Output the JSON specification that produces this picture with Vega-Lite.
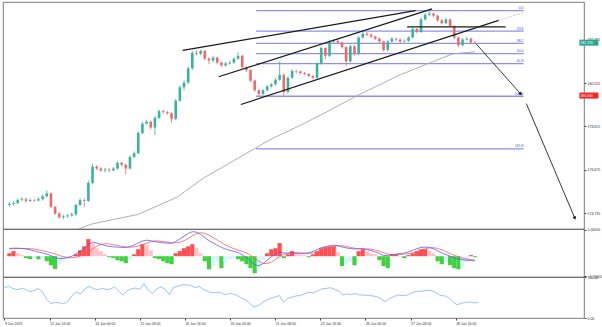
{
"$schema":"https://vega.github.io/schema/vega-lite/v6.json",
"padding":{"left":2,"top":1,"right":2,"bottom":0},
"background":"#ffffff",
"spacing":0,
"bounds":"flush",
"resolve":{"scale":{"color":"independent"}},
"config":{"font":"Liberation Sans","view":{"stroke":"#5a5a5a","strokeWidth":0.8},"axis":{"grid":false,"domain":false,"tickSize":2,"tickColor":"#444","labelFontSize":3.5,"labelColor":"#333","labelPadding":1,"title":null}},
"datasets":{
"candles":[
{"t":0,"o":175.10,"h":175.23,"l":175.02,"c":175.15},{"t":3,"o":175.15,"h":175.27,"l":175.08,"c":175.19},{"t":6,"o":175.19,"h":175.40,"l":175.12,"c":175.32},{"t":9,"o":175.32,"h":175.45,"l":175.27,"c":175.36},{"t":12,"o":175.36,"h":175.44,"l":175.20,"c":175.28},{"t":15,"o":175.28,"h":175.40,"l":175.22,"c":175.32},{"t":18,"o":175.32,"h":175.38,"l":175.24,"c":175.30},{"t":21,"o":175.30,"h":175.44,"l":175.26,"c":175.36},{"t":24,"o":175.36,"h":175.57,"l":175.30,"c":175.49},{"t":27,"o":175.49,"h":175.75,"l":175.44,"c":175.62},
{"t":30,"o":175.62,"h":175.66,"l":174.96,"c":175.02},{"t":33,"o":175.02,"h":175.06,"l":174.65,"c":174.72},{"t":36,"o":174.72,"h":174.78,"l":174.48,"c":174.55},{"t":39,"o":174.55,"h":174.66,"l":174.46,"c":174.59},{"t":42,"o":174.59,"h":174.70,"l":174.52,"c":174.63},{"t":45,"o":174.63,"h":174.76,"l":174.58,"c":174.68},{"t":48,"o":174.68,"h":175.15,"l":174.62,"c":175.10},{"t":51,"o":175.10,"h":175.40,"l":175.05,"c":175.32},{"t":54,"o":175.32,"h":175.40,"l":175.00,"c":175.28},{"t":57,"o":175.28,"h":176.20,"l":175.24,"c":176.09},
{"t":60,"o":176.09,"h":176.95,"l":176.02,"c":176.82},{"t":63,"o":176.82,"h":176.88,"l":176.66,"c":176.73},{"t":66,"o":176.73,"h":176.80,"l":176.58,"c":176.65},{"t":69,"o":176.65,"h":176.77,"l":176.56,"c":176.69},{"t":72,"o":176.69,"h":176.75,"l":176.57,"c":176.65},{"t":75,"o":176.65,"h":176.80,"l":176.60,"c":176.73},{"t":78,"o":176.73,"h":177.05,"l":176.68,"c":176.99},{"t":81,"o":176.99,"h":177.03,"l":176.82,"c":176.90},{"t":84,"o":176.90,"h":176.95,"l":176.47,"c":176.73},{"t":87,"o":176.73,"h":177.32,"l":176.70,"c":177.25},
{"t":90,"o":177.25,"h":177.50,"l":177.18,"c":177.42},{"t":93,"o":177.42,"h":178.40,"l":177.38,"c":178.32},{"t":96,"o":178.32,"h":178.82,"l":178.27,"c":178.74},{"t":99,"o":178.74,"h":178.92,"l":178.70,"c":178.83},{"t":102,"o":178.83,"h":178.88,"l":178.48,"c":178.57},{"t":105,"o":178.57,"h":179.08,"l":178.23,"c":179.00},{"t":108,"o":179.00,"h":179.38,"l":178.95,"c":179.30},{"t":111,"o":179.30,"h":179.36,"l":179.18,"c":179.26},{"t":114,"o":179.26,"h":179.32,"l":179.14,"c":179.21},{"t":117,"o":179.21,"h":179.25,"l":178.79,"c":178.96},
{"t":120,"o":178.96,"h":179.85,"l":178.90,"c":179.77},{"t":123,"o":179.77,"h":180.45,"l":179.72,"c":180.37},{"t":126,"o":180.37,"h":180.68,"l":180.22,"c":180.58},{"t":129,"o":180.58,"h":181.30,"l":180.52,"c":181.22},{"t":132,"o":181.22,"h":182.00,"l":181.15,"c":181.91},{"t":135,"o":181.91,"h":182.02,"l":181.80,"c":181.87},{"t":138,"o":181.87,"h":182.05,"l":181.80,"c":182.00},{"t":141,"o":182.00,"h":182.04,"l":181.58,"c":181.65},{"t":144,"o":181.65,"h":181.72,"l":181.40,"c":181.57},{"t":147,"o":181.57,"h":181.78,"l":181.50,"c":181.70},
{"t":150,"o":181.70,"h":181.74,"l":181.40,"c":181.48},{"t":153,"o":181.48,"h":181.52,"l":181.28,"c":181.35},{"t":156,"o":181.35,"h":181.50,"l":181.30,"c":181.44},{"t":159,"o":181.44,"h":181.55,"l":181.38,"c":181.48},{"t":162,"o":181.48,"h":181.72,"l":181.42,"c":181.65},{"t":165,"o":181.65,"h":181.95,"l":181.60,"c":181.78},{"t":168,"o":181.78,"h":181.82,"l":181.20,"c":181.27},{"t":171,"o":181.27,"h":181.32,"l":181.05,"c":181.14},{"t":174,"o":181.14,"h":181.18,"l":180.60,"c":180.67},{"t":177,"o":180.67,"h":180.72,"l":180.18,"c":180.24},
{"t":180,"o":180.24,"h":180.28,"l":179.98,"c":180.07},{"t":183,"o":180.07,"h":180.30,"l":180.02,"c":180.24},{"t":186,"o":180.24,"h":180.48,"l":180.18,"c":180.41},{"t":189,"o":180.41,"h":180.56,"l":180.36,"c":180.50},{"t":192,"o":180.50,"h":180.78,"l":180.45,"c":180.71},{"t":195,"o":180.71,"h":181.53,"l":180.66,"c":180.93},{"t":198,"o":180.93,"h":180.98,"l":179.94,"c":180.16},{"t":201,"o":180.16,"h":180.86,"l":180.10,"c":180.80},{"t":204,"o":180.80,"h":181.18,"l":180.74,"c":181.10},{"t":207,"o":181.10,"h":181.16,"l":181.00,"c":181.08},
{"t":210,"o":181.08,"h":181.12,"l":180.95,"c":181.01},{"t":213,"o":181.01,"h":181.06,"l":180.90,"c":180.97},{"t":216,"o":180.97,"h":181.00,"l":180.82,"c":180.88},{"t":219,"o":180.88,"h":180.92,"l":180.72,"c":180.80},{"t":222,"o":180.80,"h":181.50,"l":180.75,"c":181.44},{"t":225,"o":181.44,"h":182.20,"l":181.38,"c":182.13},{"t":228,"o":182.13,"h":182.17,"l":181.62,"c":181.78},{"t":231,"o":181.78,"h":182.50,"l":181.72,"c":182.42},{"t":234,"o":182.42,"h":182.54,"l":182.36,"c":182.45},{"t":237,"o":182.45,"h":182.52,"l":182.30,"c":182.38},
{"t":240,"o":182.38,"h":182.42,"l":182.10,"c":182.17},{"t":243,"o":182.17,"h":182.20,"l":181.31,"c":181.53},{"t":246,"o":181.53,"h":182.28,"l":181.48,"c":182.21},{"t":249,"o":182.21,"h":182.26,"l":181.78,"c":181.87},{"t":252,"o":181.87,"h":182.66,"l":181.82,"c":182.60},{"t":255,"o":182.60,"h":182.86,"l":182.54,"c":182.77},{"t":258,"o":182.77,"h":182.85,"l":182.65,"c":182.72},{"t":261,"o":182.72,"h":182.78,"l":182.57,"c":182.64},{"t":264,"o":182.64,"h":182.68,"l":182.48,"c":182.55},{"t":267,"o":182.55,"h":182.60,"l":182.36,"c":182.42},
{"t":270,"o":182.42,"h":182.46,"l":181.98,"c":182.04},{"t":273,"o":182.04,"h":182.48,"l":181.98,"c":182.42},{"t":276,"o":182.42,"h":182.62,"l":182.38,"c":182.55},{"t":279,"o":182.55,"h":182.60,"l":182.44,"c":182.51},{"t":282,"o":182.51,"h":182.55,"l":182.36,"c":182.42},{"t":285,"o":182.42,"h":182.52,"l":182.38,"c":182.45},{"t":288,"o":182.45,"h":182.66,"l":182.40,"c":182.60},{"t":291,"o":182.60,"h":183.05,"l":182.55,"c":182.98},{"t":294,"o":182.98,"h":183.02,"l":182.78,"c":182.85},{"t":297,"o":182.85,"h":183.50,"l":182.80,"c":183.41},
{"t":300,"o":183.41,"h":183.70,"l":183.35,"c":183.62},{"t":303,"o":183.62,"h":183.75,"l":183.56,"c":183.67},{"t":306,"o":183.67,"h":183.72,"l":183.50,"c":183.58},{"t":309,"o":183.58,"h":183.62,"l":183.30,"c":183.37},{"t":312,"o":183.37,"h":183.42,"l":183.18,"c":183.24},{"t":315,"o":183.24,"h":183.48,"l":183.20,"c":183.41},{"t":318,"o":183.41,"h":183.45,"l":183.05,"c":183.11},{"t":321,"o":183.11,"h":183.15,"l":182.52,"c":182.60},{"t":324,"o":182.60,"h":182.64,"l":182.17,"c":182.25},{"t":327,"o":182.25,"h":182.58,"l":182.20,"c":182.51},
{"t":330,"o":182.51,"h":182.62,"l":182.46,"c":182.55},{"t":333,"o":182.55,"h":182.60,"l":182.32,"c":182.38},{"t":336,"o":182.38,"h":182.44,"l":182.30,"c":182.37}
],
"ind":[
{"t":0,"h":0.11,"d":"up","m":0.29,"s":0.28,"r":74},{"t":3,"h":0.19,"d":"up","m":0.30,"s":0.28,"r":77},{"t":6,"h":0.11,"d":"dn+","m":0.30,"s":0.29,"r":72},{"t":9,"h":0.04,"d":"dn+","m":0.29,"s":0.29,"r":69},{"t":12,"h":-0.07,"d":"dn-","m":0.27,"s":0.29,"r":72},{"t":15,"h":-0.11,"d":"dn-","m":0.24,"s":0.28,"r":70},{"t":18,"h":-0.07,"d":"up-","m":0.20,"s":0.27,"r":64},{"t":21,"h":-0.11,"d":"dn-","m":0.16,"s":0.24,"r":67},{"t":24,"h":-0.07,"d":"up-","m":0.12,"s":0.21,"r":72},{"t":27,"h":-0.19,"d":"dn-","m":0.08,"s":0.17,"r":64},
{"t":30,"h":-0.34,"d":"dn-","m":0.02,"s":0.13,"r":45},{"t":33,"h":-0.48,"d":"dn-","m":-0.05,"s":0.08,"r":35},{"t":36,"h":-0.30,"d":"up-","m":-0.09,"s":0.03,"r":38},{"t":39,"h":-0.19,"d":"up-","m":-0.08,"s":-0.02,"r":37},{"t":42,"h":-0.11,"d":"up-","m":-0.05,"s":-0.05,"r":35},{"t":45,"h":-0.04,"d":"up-","m":0.00,"s":-0.06,"r":40},{"t":48,"h":0.07,"d":"up","m":0.08,"s":-0.04,"r":55},{"t":51,"h":0.22,"d":"up","m":0.18,"s":0.00,"r":64},{"t":54,"h":0.37,"d":"up","m":0.30,"s":0.07,"r":58},{"t":57,"h":0.64,"d":"up","m":0.42,"s":0.16,"r":71},
{"t":60,"h":0.49,"d":"dn+","m":0.53,"s":0.27,"r":77},{"t":63,"h":0.30,"d":"dn+","m":0.50,"s":0.37,"r":72},{"t":66,"h":0.19,"d":"dn+","m":0.45,"s":0.44,"r":69},{"t":69,"h":0.07,"d":"dn+","m":0.40,"s":0.47,"r":72},{"t":72,"h":-0.04,"d":"dn-","m":0.37,"s":0.46,"r":70},{"t":75,"h":-0.07,"d":"dn-","m":0.35,"s":0.43,"r":70},{"t":78,"h":-0.15,"d":"dn-","m":0.34,"s":0.40,"r":76},{"t":81,"h":-0.19,"d":"dn-","m":0.33,"s":0.37,"r":66},{"t":84,"h":-0.26,"d":"dn-","m":0.32,"s":0.35,"r":56},{"t":87,"h":-0.11,"d":"up-","m":0.36,"s":0.34,"r":66},
{"t":90,"h":0.07,"d":"up","m":0.42,"s":0.35,"r":71},{"t":93,"h":0.26,"d":"up","m":0.50,"s":0.38,"r":73},{"t":96,"h":0.45,"d":"up","m":0.57,"s":0.43,"r":70},{"t":99,"h":0.41,"d":"dn+","m":0.60,"s":0.49,"r":84},{"t":102,"h":0.22,"d":"dn+","m":0.58,"s":0.54,"r":68},{"t":105,"h":-0.07,"d":"dn-","m":0.55,"s":0.57,"r":60},{"t":108,"h":-0.11,"d":"dn-","m":0.52,"s":0.57,"r":71},{"t":111,"h":-0.19,"d":"dn-","m":0.50,"s":0.55,"r":76},{"t":114,"h":-0.26,"d":"dn-","m":0.49,"s":0.53,"r":70},{"t":117,"h":-0.30,"d":"dn-","m":0.48,"s":0.51,"r":57},
{"t":120,"h":0.11,"d":"up","m":0.55,"s":0.50,"r":75},{"t":123,"h":0.19,"d":"up","m":0.65,"s":0.52,"r":77},{"t":126,"h":0.30,"d":"up","m":0.75,"s":0.58,"r":81},{"t":129,"h":0.37,"d":"up","m":0.85,"s":0.66,"r":81},{"t":132,"h":0.45,"d":"up","m":0.92,"s":0.76,"r":80},{"t":135,"h":0.30,"d":"dn+","m":0.90,"s":0.84,"r":74},{"t":138,"h":0.11,"d":"dn+","m":0.82,"s":0.88,"r":77},{"t":141,"h":-0.19,"d":"dn-","m":0.70,"s":0.86,"r":70},{"t":144,"h":-0.49,"d":"dn-","m":0.58,"s":0.79,"r":65},{"t":147,"h":-0.34,"d":"up-","m":0.50,"s":0.70,"r":62},
{"t":150,"h":-0.19,"d":"up-","m":0.41,"s":0.60,"r":62},{"t":153,"h":-0.45,"d":"dn-","m":0.33,"s":0.51,"r":63},{"t":156,"h":-0.22,"d":"up-","m":0.27,"s":0.42,"r":57},{"t":159,"h":-0.11,"d":"up-","m":0.22,"s":0.35,"r":59},{"t":162,"h":-0.07,"d":"up-","m":0.18,"s":0.28,"r":59},{"t":165,"h":-0.11,"d":"dn-","m":0.14,"s":0.23,"r":55},{"t":168,"h":-0.19,"d":"dn-","m":0.05,"s":0.18,"r":49},{"t":171,"h":-0.30,"d":"dn-","m":-0.05,"s":0.12,"r":44},{"t":174,"h":-0.45,"d":"dn-","m":-0.18,"s":0.04,"r":36},{"t":177,"h":-0.64,"d":"dn-","m":-0.32,"s":-0.07,"r":27},
{"t":180,"h":-0.45,"d":"up-","m":-0.36,"s":-0.19,"r":30},{"t":183,"h":-0.15,"d":"up-","m":-0.28,"s":-0.27,"r":38},{"t":186,"h":0.11,"d":"up","m":-0.15,"s":-0.28,"r":44},{"t":189,"h":0.26,"d":"up","m":-0.02,"s":-0.22,"r":48},{"t":192,"h":0.30,"d":"up","m":0.08,"s":-0.12,"r":51},{"t":195,"h":0.49,"d":"up","m":0.15,"s":-0.02,"r":55},{"t":198,"h":-0.07,"d":"dn-","m":0.12,"s":0.07,"r":38},{"t":201,"h":0.07,"d":"up","m":0.12,"s":0.11,"r":48},{"t":204,"h":0.19,"d":"up","m":0.13,"s":0.12,"r":51},{"t":207,"h":0.11,"d":"dn+","m":0.12,"s":0.12,"r":54},
{"t":210,"h":0.07,"d":"dn+","m":0.11,"s":0.12,"r":55},{"t":213,"h":0.04,"d":"dn+","m":0.10,"s":0.12,"r":59},{"t":216,"h":-0.04,"d":"dn-","m":0.12,"s":0.11,"r":63},{"t":219,"h":0.07,"d":"up","m":0.18,"s":0.12,"r":61},{"t":222,"h":0.19,"d":"up","m":0.25,"s":0.15,"r":66},{"t":225,"h":0.30,"d":"up","m":0.32,"s":0.20,"r":71},{"t":228,"h":0.34,"d":"up","m":0.36,"s":0.27,"r":72},{"t":231,"h":0.37,"d":"up","m":0.39,"s":0.32,"r":74},{"t":234,"h":0.37,"d":"up","m":0.41,"s":0.36,"r":70},{"t":237,"h":0.15,"d":"dn+","m":0.40,"s":0.39,"r":66},
{"t":240,"h":-0.37,"d":"dn-","m":0.35,"s":0.39,"r":56},{"t":243,"h":-0.30,"d":"up-","m":0.31,"s":0.37,"r":59},{"t":246,"h":-0.22,"d":"up-","m":0.29,"s":0.33,"r":57},{"t":249,"h":-0.34,"d":"dn-","m":0.27,"s":0.30,"r":60},{"t":252,"h":0.19,"d":"up","m":0.28,"s":0.28,"r":56},{"t":255,"h":0.26,"d":"up","m":0.28,"s":0.28,"r":56},{"t":258,"h":0.19,"d":"dn+","m":0.25,"s":0.27,"r":55},{"t":261,"h":0.11,"d":"dn+","m":0.21,"s":0.26,"r":54},{"t":264,"h":0.07,"d":"dn+","m":0.16,"s":0.23,"r":52},{"t":267,"h":-0.15,"d":"dn-","m":0.10,"s":0.19,"r":47},
{"t":270,"h":-0.37,"d":"dn-","m":0.02,"s":0.13,"r":40},{"t":273,"h":-0.45,"d":"dn-","m":0.03,"s":0.08,"r":47},{"t":276,"h":0.07,"d":"up","m":0.06,"s":0.05,"r":52},{"t":279,"h":0.07,"d":"up","m":0.08,"s":0.05,"r":56},{"t":282,"h":-0.04,"d":"up-","m":0.10,"s":0.06,"r":55},{"t":285,"h":-0.07,"d":"dn-","m":0.12,"s":0.08,"r":55},{"t":288,"h":0.04,"d":"up","m":0.16,"s":0.10,"r":60},{"t":291,"h":0.11,"d":"up","m":0.22,"s":0.13,"r":64},{"t":294,"h":0.19,"d":"up","m":0.28,"s":0.18,"r":65},{"t":297,"h":0.26,"d":"up","m":0.33,"s":0.23,"r":66},
{"t":300,"h":0.26,"d":"up","m":0.34,"s":0.28,"r":68},{"t":303,"h":0.19,"d":"dn+","m":0.33,"s":0.31,"r":66},{"t":306,"h":0.11,"d":"dn+","m":0.28,"s":0.32,"r":62},{"t":309,"h":-0.19,"d":"dn-","m":0.20,"s":0.29,"r":55},{"t":312,"h":-0.30,"d":"dn-","m":0.12,"s":0.24,"r":54},{"t":315,"h":-0.22,"d":"up-","m":0.06,"s":0.17,"r":50},{"t":318,"h":-0.34,"d":"dn-","m":0.00,"s":0.10,"r":40},{"t":321,"h":-0.45,"d":"dn-","m":-0.06,"s":0.04,"r":32},{"t":324,"h":-0.49,"d":"dn-","m":-0.10,"s":-0.02,"r":36},{"t":327,"h":-0.37,"d":"up-","m":-0.13,"s":-0.07,"r":38},
{"t":330,"h":-0.22,"d":"up-","m":-0.15,"s":-0.11,"r":39},{"t":333,"h":0.04,"d":"up","m":-0.16,"s":-0.13,"r":37},{"t":336,"h":-0.04,"d":"dn-","m":-0.17,"s":-0.15,"r":38}
],
"ma":[{"t":45,"v":173.90},{"t":59,"v":174.24},{"t":75,"v":174.45},{"t":93,"v":174.68},{"t":108,"v":175.09},{"t":121,"v":175.45},{"t":140,"v":176.30},{"t":164,"v":177.16},{"t":188,"v":178.02},{"t":211,"v":178.70},{"t":230,"v":179.30},{"t":252,"v":180.03},{"t":282,"v":180.93},{"t":306,"v":181.53},{"t":320,"v":181.87},{"t":336,"v":181.96}],
"fib":[{"lvl":"0.0","p":183.80,"t1":178,"t2":371},{"lvl":"23.6","p":182.89,"t1":178,"t2":371},{"lvl":"38.2","p":182.34,"t1":178,"t2":371},{"lvl":"50.0","p":181.88,"t1":178,"t2":371},{"lvl":"61.8","p":181.43,"t1":178,"t2":371},{"lvl":"100.0","p":179.97,"t1":178,"t2":371},{"lvl":"161.8","p":177.61,"t1":178,"t2":371}],
"lines":[{"t1":125,"p1":182.02,"t2":293,"p2":183.80,"k":"tl"},{"t1":151,"p1":180.84,"t2":305,"p2":183.88,"k":"tl"},{"t1":167,"p1":179.60,"t2":353,"p2":183.37,"k":"tl"},{"t1":287,"p1":183.08,"t2":358,"p2":183.08,"k":"tl"},{"t1":353,"p1":183.37,"t2":371,"p2":183.71,"k":"dot"},{"t1":337,"p1":182.30,"t2":369,"p2":180.07,"k":"arrow"},{"t1":373,"p1":179.64,"t2":408,"p2":174.51,"k":"arrow"}],
"heads":[{"id":"a1","t":369,"p":180.07},{"id":"a2","t":408,"p":174.51}],
"tags":[{"p":182.37,"label":"182.370","kind":"bid"},{"p":180.00,"label":"180.000","kind":"level"}]
},
"vconcat":[
{"width":581,"height":227,
"layer":[
{"mark":{"type":"rule","color":"#80d8cb","strokeWidth":0.8},"encoding":{"y":{"datum":182.37,"type":"quantitative","scale":{"domain":[174.248,183.966],"zero":false,"nice":false},"axis":{"orient":"right","values":[183.465,182.98,182.495,182.01,181.525,181.04,180.555,180.07,179.585,179.1,178.615,178.13,177.645,177.16,176.675,176.19,175.705,175.22,174.735],"format":".3f"}}}},
{"mark":{"type":"rule","color":"#ff2b2b","strokeWidth":1.2},"encoding":{"y":{"datum":180.0,"type":"quantitative"}}},
{"data":{"name":"fib"},"mark":{"type":"rule","color":"#8f8ff2","strokeWidth":1.3},"encoding":{"x":{"field":"t1","type":"quantitative","scale":{"domain":[-1,411],"nice":false,"zero":false},"axis":null},"x2":{"field":"t2"},"y":{"field":"p","type":"quantitative"}}},
{"data":{"name":"fib"},"mark":{"type":"text","align":"right","baseline":"bottom","dy":-0.5,"fontSize":3.5,"color":"#4a4ad0"},"encoding":{"x":{"field":"t2","type":"quantitative"},"y":{"field":"p","type":"quantitative"},"text":{"field":"lvl"}}},
{"data":{"name":"ma"},"mark":{"type":"line","color":"#a6a6a6","strokeWidth":0.9,"clip":true},"encoding":{"x":{"field":"t","type":"quantitative"},"y":{"field":"v","type":"quantitative"}}},
{"data":{"name":"candles"},"mark":{"type":"rule","strokeWidth":0.8},"encoding":{"x":{"field":"t","type":"quantitative"},"y":{"field":"l","type":"quantitative"},"y2":{"field":"h"},"color":{"condition":{"test":"datum.c >= datum.o","value":"#38b39e"},"value":"#ee6a68"}}},
{"data":{"name":"candles"},"mark":{"type":"bar","size":2.6},"encoding":{"x":{"field":"t","type":"quantitative"},"y":{"field":"o","type":"quantitative"},"y2":{"field":"c"},"color":{"condition":{"test":"datum.c >= datum.o","value":"#38b39e"},"value":"#ee6a68"}}},
{"data":{"name":"lines"},"transform":[{"filter":"datum.k == 'tl'"}],"mark":{"type":"rule","color":"#1a1a1a","strokeWidth":1.2},"encoding":{"x":{"field":"t1","type":"quantitative"},"y":{"field":"p1","type":"quantitative"},"x2":{"field":"t2"},"y2":{"field":"p2"}}},
{"data":{"name":"lines"},"transform":[{"filter":"datum.k == 'dot'"}],"mark":{"type":"rule","color":"#f2a0a0","strokeWidth":0.9,"strokeDash":[1.5,1.5]},"encoding":{"x":{"field":"t1","type":"quantitative"},"y":{"field":"p1","type":"quantitative"},"x2":{"field":"t2"},"y2":{"field":"p2"}}},
{"data":{"name":"lines"},"transform":[{"filter":"datum.k == 'arrow'"}],"mark":{"type":"rule","color":"#222222","strokeWidth":0.9,"clip":false},"encoding":{"x":{"field":"t1","type":"quantitative"},"y":{"field":"p1","type":"quantitative"},"x2":{"field":"t2"},"y2":{"field":"p2"}}},
{"data":{"name":"heads"},"transform":[{"filter":"datum.id == 'a1'"}],"mark":{"type":"point","shape":"triangle-up","filled":true,"size":14,"angle":139,"color":"#111111","opacity":1},"encoding":{"x":{"field":"t","type":"quantitative"},"y":{"field":"p","type":"quantitative"}}},
{"data":{"name":"heads"},"transform":[{"filter":"datum.id == 'a2'"}],"mark":{"type":"point","shape":"triangle-up","filled":true,"size":14,"angle":158,"color":"#111111","opacity":1},"encoding":{"x":{"field":"t","type":"quantitative"},"y":{"field":"p","type":"quantitative"}}},
{"data":{"name":"tags"},"mark":{"type":"bar","size":6,"clip":false},"encoding":{"x":{"datum":411.3,"type":"quantitative"},"x2":{"datum":425},"y":{"field":"p","type":"quantitative"},"color":{"field":"kind","type":"nominal","scale":{"domain":["bid","level"],"range":["#2aa596","#ff2020"]},"legend":null}}},
{"data":{"name":"tags"},"mark":{"type":"text","align":"left","baseline":"middle","fontSize":3.5,"color":"#ffffff","dx":1,"clip":false},"encoding":{"x":{"datum":411.3,"type":"quantitative"},"y":{"field":"p","type":"quantitative"},"text":{"field":"label"}}},
{"mark":{"type":"text","text":"GBPJPY, H1:  Great Britain Pound vs Japanese Yen","align":"left","baseline":"middle","fontSize":3.4,"color":"#222222"},"encoding":{"x":{"datum":10,"type":"quantitative"},"y":{"datum":183.80,"type":"quantitative"}}}
]},
{"width":581,"height":48,
"layer":[
{"data":{"name":"ind"},"mark":{"type":"bar","size":4.2},"encoding":{"x":{"field":"t","type":"quantitative","scale":{"domain":[-1,411],"nice":false,"zero":false},"axis":null},"y":{"field":"h","type":"quantitative","scale":{"domain":[-0.78,1.02],"nice":false,"zero":false},"axis":{"orient":"right","values":[1.0,0,-0.75],"format":".5f"}},"y2":{"datum":0},"color":{"field":"d","type":"nominal","scale":{"domain":["up","dn+","dn-","up-"],"range":["#ff4f4f","#ffc2cb","#3fd23f","#d8f2ff"]},"legend":null}}},
{"data":{"name":"ind"},"mark":{"type":"line","color":"#ff5c5c","strokeWidth":0.8},"encoding":{"x":{"field":"t","type":"quantitative"},"y":{"field":"s","type":"quantitative"}}},
{"data":{"name":"ind"},"mark":{"type":"line","color":"#5a5aff","strokeWidth":0.8},"encoding":{"x":{"field":"t","type":"quantitative"},"y":{"field":"m","type":"quantitative"}}},
{"mark":{"type":"rule","color":"#333333","strokeWidth":1},"encoding":{"x":{"datum":61,"type":"quantitative"},"y":{"datum":0.69,"type":"quantitative"},"x2":{"datum":320},"y2":{"datum":0.23}}},
{"mark":{"type":"text","text":"MACD H1 -0.27502 -0.17330 0.08535","align":"left","baseline":"middle","fontSize":3.4,"color":"#222222"},"encoding":{"x":{"datum":1,"type":"quantitative"},"y":{"datum":0.88,"type":"quantitative"}}}
]},
{"width":581,"height":41,
"layer":[
{"mark":{"type":"rule","color":"#c4c4c4","strokeWidth":0.6,"strokeDash":[1,1]},"encoding":{"y":{"datum":70,"type":"quantitative","scale":{"domain":[0,100],"nice":false},"axis":{"orient":"right","values":[100,70,30,0],"format":".2f"}}}},
{"mark":{"type":"rule","color":"#c4c4c4","strokeWidth":0.6,"strokeDash":[1,1]},"encoding":{"y":{"datum":30,"type":"quantitative"}}},
{"data":{"name":"ind"},"mark":{"type":"line","color":"#7fb3ff","strokeWidth":0.8},"encoding":{"x":{"field":"t","type":"quantitative","scale":{"domain":[-1,411],"nice":false,"zero":false},"axis":{"orient":"bottom","values":[0,16,32,48,64,80,96,112,128,144,160,176,192,208,224,240,256,272,288,304,320],"labelExpr":"['9 Jun 2023','12 Jun 00:00','12 Jun 16:00','13 Jun 08:00','14 Jun 00:00','14 Jun 16:00','15 Jun 08:00','16 Jun 00:00','16 Jun 16:00','19 Jun 08:00','20 Jun 00:00','20 Jun 16:00','21 Jun 08:00','22 Jun 00:00','22 Jun 16:00','23 Jun 08:00','26 Jun 00:00','26 Jun 16:00','27 Jun 08:00','28 Jun 00:00','28 Jun 16:00'][round(datum.value/16)]","labelAlign":"left","labelOverlap":false,"labelFlush":false,"labelBound":false}},"y":{"field":"r","type":"quantitative"}}},
{"mark":{"type":"rule","color":"#333333","strokeWidth":1},"encoding":{"x":{"datum":98,"type":"quantitative"},"y":{"datum":88,"type":"quantitative"},"x2":{"datum":326},"y2":{"datum":64}}},
{"mark":{"type":"text","text":"RSI(14) 38.41","align":"left","baseline":"middle","fontSize":3.4,"color":"#222222"},"encoding":{"x":{"datum":1,"type":"quantitative"},"y":{"datum":92,"type":"quantitative"}}}
]}
]
}
